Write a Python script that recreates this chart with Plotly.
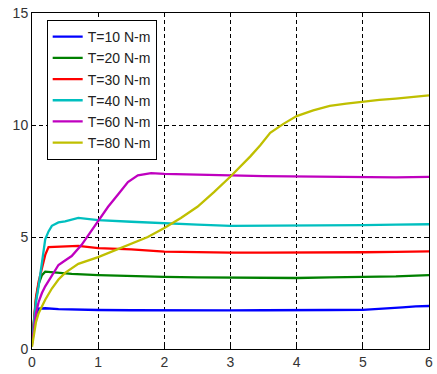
import plotly.graph_objects as go

# Time axis points (s) for each series
x10 = [0, 0.03, 0.06, 0.1, 0.2, 0.4, 0.6, 1.0, 1.5, 2.0, 2.5, 3.0, 3.5, 4.0, 4.5, 5.0, 5.3, 5.6, 5.8, 6.0]
y10 = [0.3, 0.9, 1.5, 1.8, 1.82, 1.78, 1.76, 1.74, 1.73, 1.72, 1.73, 1.72, 1.73, 1.72, 1.74, 1.75, 1.82, 1.86, 1.9, 1.92]

x20 = [0, 0.03, 0.06, 0.1, 0.15, 0.2, 0.4, 0.6, 1.0, 1.5, 2.0, 2.5, 3.0, 3.5, 4.0, 4.5, 5.0, 5.5, 6.0]
y20 = [0.3, 1.2, 2.2, 2.9, 3.3, 3.45, 3.4, 3.35, 3.3, 3.25, 3.22, 3.2, 3.18, 3.19, 3.17, 3.2, 3.22, 3.24, 3.3]

x30 = [0, 0.03, 0.06, 0.1, 0.15, 0.2, 0.25, 0.5, 0.7, 1.0, 1.5, 2.0, 2.5, 3.0, 3.5, 4.0, 4.5, 5.0, 5.5, 6.0]
y30 = [0.3, 1.3, 2.3, 3.0, 3.6, 4.2, 4.55, 4.56, 4.6, 4.5, 4.45, 4.35, 4.32, 4.3, 4.3, 4.3, 4.31, 4.32, 4.34, 4.36]

x40 = [0, 0.03, 0.06, 0.1, 0.15, 0.2, 0.25, 0.3, 0.4, 0.5, 0.7, 1.0, 1.5, 2.0, 2.5, 3.0, 3.5, 4.0, 4.5, 5.0, 5.5, 6.0]
y40 = [0.3, 1.3, 2.1, 2.8, 3.9, 4.9, 5.25, 5.5, 5.65, 5.7, 5.85, 5.75, 5.68, 5.6, 5.55, 5.5, 5.5, 5.5, 5.52, 5.53, 5.55, 5.57]

x60 = [0, 0.03, 0.06, 0.1, 0.15, 0.2, 0.3, 0.4, 0.5, 0.6, 0.75, 0.9, 1.0, 1.15, 1.3, 1.45, 1.6, 1.8, 2.0, 2.5, 3.0, 3.5, 4.0, 4.5, 5.0, 5.5, 6.0]
y60 = [0.2, 0.9, 1.6, 2.1, 2.5, 2.8, 3.3, 3.75, 3.95, 4.15, 4.65, 5.3, 5.75, 6.35, 6.9, 7.45, 7.75, 7.85, 7.82, 7.8, 7.75, 7.72, 7.7, 7.68, 7.67, 7.66, 7.68]

x80 = [0, 0.03, 0.06, 0.1, 0.15, 0.2, 0.3, 0.4, 0.5, 0.7, 1.0, 1.25, 1.5, 1.75, 2.0, 2.25, 2.5, 2.75, 3.0, 3.15, 3.3, 3.45, 3.6, 3.8, 4.0, 4.25, 4.5, 4.75, 5.0, 5.25, 5.5, 5.75, 6.0]
y80 = [0.1, 0.7, 1.2, 1.6, 1.9, 2.2, 2.7, 3.1, 3.4, 3.8, 4.1, 4.4, 4.7, 5.0, 5.4, 5.85, 6.35, 7.0, 7.7, 8.15, 8.6, 9.1, 9.65, 10.05, 10.4, 10.65, 10.85, 10.95, 11.05, 11.12, 11.18, 11.25, 11.32]

names = ["T=10 N-m", "T=20 N-m", "T=30 N-m", "T=40 N-m", "T=60 N-m", "T=80 N-m"]
colors = ["#0000ff", "#008000", "#ff0000", "#00bfbf", "#bf00bf", "#bfbf00"]
series = [(x10, y10), (x20, y20), (x30, y30), (x40, y40), (x60, y60), (x80, y80)]

x_ticks = [0, 1, 2, 3, 4, 5, 6]
y_ticks = [0, 5, 10, 15]

fig = go.Figure()
for (xs, ys), n, c in zip(series, names, colors):
    fig.add_trace(go.Scatter(x=xs, y=ys, mode="lines", name=n,
                             line=dict(color=c, width=2.3)))

axis_common = dict(
    showline=True, linecolor="#000000", linewidth=1, mirror="ticks",
    showgrid=True, gridcolor="#000000", griddash="4px,3px", gridwidth=1,
    ticks="inside", ticklen=4, tickcolor="#000000",
    zeroline=False,
    tickfont=dict(family="Liberation Sans, Arial, sans-serif", size=14, color="#333333"),
)

fig.update_layout(
    width=437, height=374,
    margin=dict(l=32, r=4, t=13, b=22),
    paper_bgcolor="white", plot_bgcolor="white",
    xaxis=dict(range=[0, 6], tickvals=x_ticks, **axis_common),
    yaxis=dict(range=[0, 15], tickvals=y_ticks, **axis_common),
    legend=dict(
        x=0.037, y=0.979, xanchor="left", yanchor="top",
        bgcolor="white", bordercolor="#000000", borderwidth=1,
        font=dict(family="Liberation Sans, Arial, sans-serif", size=14, color="#222222"),
        tracegroupgap=0, itemwidth=30,
    ),
    showlegend=True,
)

fig.write_html("out.html")
